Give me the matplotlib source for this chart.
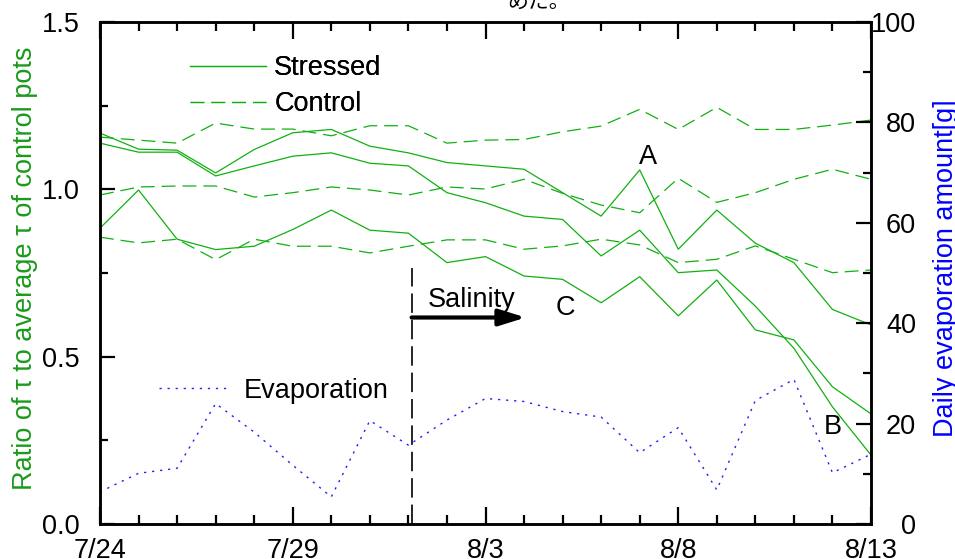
import matplotlib
matplotlib.use("Agg")
import matplotlib.pyplot as plt
import matplotlib.dates as mdates
from matplotlib.ticker import FixedLocator, MultipleLocator
from matplotlib.lines import Line2D
import pandas as pd

plt.rcParams['font.family'] = ['Liberation Sans', 'DejaVu Sans']
plt.rcParams['lines.scale_dashes'] = False

# データ (7/24 - 8/13)
dates = pd.date_range('2000-07-24', '2000-08-13', freq='D')

stressed_a = [1.168, 1.120, 1.117, 1.049, 1.119, 1.169, 1.179, 1.129, 1.109, 1.080, 1.070,
              1.060, 0.990, 0.920, 1.058, 0.821, 0.938, 0.839, 0.781, 0.641, 0.595]
stressed_b = [1.138, 1.111, 1.111, 1.040, 1.070, 1.099, 1.109, 1.078, 1.070, 0.990, 0.960,
              0.920, 0.910, 0.801, 0.878, 0.751, 0.759, 0.651, 0.525, 0.350, 0.206]
stressed_c = [0.884, 0.998, 0.851, 0.820, 0.830, 0.880, 0.938, 0.878, 0.869, 0.781, 0.799,
              0.741, 0.731, 0.661, 0.739, 0.622, 0.729, 0.580, 0.550, 0.410, 0.329]

control_1 = [1.156, 1.147, 1.138, 1.198, 1.180, 1.180, 1.160, 1.190, 1.190, 1.138, 1.147,
             1.149, 1.172, 1.189, 1.239, 1.179, 1.245, 1.179, 1.179, 1.192, 1.207]
control_2 = [0.983, 1.007, 1.010, 1.010, 0.977, 0.990, 1.007, 0.998, 0.983, 1.007, 1.001,
             1.030, 0.988, 0.953, 0.930, 1.033, 0.961, 0.990, 1.030, 1.060, 1.030]
control_3 = [0.857, 0.840, 0.851, 0.790, 0.851, 0.830, 0.830, 0.810, 0.830, 0.849, 0.849,
             0.821, 0.831, 0.851, 0.834, 0.781, 0.791, 0.831, 0.791, 0.751, 0.759]

evaporation = [6.4, 10.1, 11.1, 24.0, 18.3, 11.7, 5.4, 20.6, 15.7, 20.7, 25.0,
               24.4, 22.4, 21.3, 14.2, 19.2, 6.8, 24.6, 28.8, 10.2, 13.9]

tick_dates = dates[::5]
salinity_start = dates[8] + pd.Timedelta(hours=2)

green = '#11b011'
label_green = '#1a9a1a'
fs = 19.5

fig = plt.figure(figsize=(9.55, 5.59), dpi=100)
ax = fig.add_axes([100 / 955, 35 / 559, 771 / 955, 502 / 559])
ax2 = ax.twinx()

for s in [stressed_a, stressed_b, stressed_c]:
    ax.plot(dates, s, color=green, lw=0.9)
for c in [control_1, control_2, control_3]:
    ax.plot(dates, c, color=green, lw=0.9, dashes=(10, 5))
ax2.plot(dates, evaporation, color='#2020ff', lw=1.0, dashes=(1.6, 4.2))

ax.set_xlim(dates[0], dates[-1])
ax.set_ylim(0, 1.5)
ax2.set_ylim(0, 100)

ax.xaxis.set_major_locator(FixedLocator(mdates.date2num(tick_dates)))
ax.xaxis.set_minor_locator(mdates.DayLocator())
ax.set_xticklabels([f"{d.month}/{d.day}" for d in tick_dates])
ax.yaxis.set_major_locator(MultipleLocator(0.5))
ax.yaxis.set_minor_locator(MultipleLocator(0.25))
ax.yaxis.set_major_formatter(plt.FormatStrFormatter('%.1f'))
ax2.yaxis.set_major_locator(MultipleLocator(20))
ax2.yaxis.set_minor_locator(MultipleLocator(10))

ax.tick_params(axis='x', which='both', direction='in', top=True, width=1.6, labelsize=fs, pad=10)
ax.tick_params(axis='x', which='major', length=12)
ax.tick_params(axis='x', which='minor', length=6.5)
ax.tick_params(axis='y', which='both', direction='in', right=False, width=1.6, labelsize=fs, pad=14.4)
ax.tick_params(axis='y', which='major', length=11)
ax.tick_params(axis='y', which='minor', length=6)
ax2.tick_params(axis='y', which='both', direction='in', width=1.6, labelsize=fs, pad=32.4)
ax2.tick_params(axis='y', which='major', length=11)
ax2.tick_params(axis='y', which='minor', length=6)
for lab in ax2.get_yticklabels():
    lab.set_horizontalalignment('right')

for a in (ax, ax2):
    for sp in a.spines.values():
        sp.set_linewidth(1.8)

ax.set_ylabel('Ratio of \u03c4 to average \u03c4 of control pots', color=label_green, fontsize=fs)
ax.yaxis.set_label_coords(-0.08, 0.51)
ax2.set_ylabel('Daily evaporation amount[g]', color='#0000ff', fontsize=fs)
ax2.yaxis.set_label_coords(1.08, 0.51)

# 塩ストレス開始
ax.plot([salinity_start, salinity_start], [0, 0.765], color='black', lw=1.2, dashes=(14, 5))
ax.annotate('', xy=(dates[11] + pd.Timedelta(hours=1), 0.617), xytext=(salinity_start, 0.617),
            arrowprops=dict(arrowstyle='-|>,head_length=1.6,head_width=0.5', color='black',
                            lw=3, shrinkA=0, shrinkB=0))
ax.text(dates[8] + pd.Timedelta(hours=12), 0.63, 'Salinity', fontsize=fs, ha='left', va='bottom')
ax.text(dates[14] + pd.Timedelta(hours=5), 1.096, 'A', fontsize=fs, ha='center', va='center')
ax.text(dates[19], 0.29, 'B', fontsize=fs, ha='center', va='center')
ax.text(dates[12] + pd.Timedelta(hours=2), 0.645, 'C', fontsize=fs, ha='center', va='center')

leg1 = ax.legend([Line2D([], [], color=green, lw=0.9),
                  Line2D([], [], color=green, lw=0.9, dashes=(10, 5))],
                 ['Stressed', 'Control'], loc='upper left', bbox_to_anchor=(0.117, 0.934),
                 frameon=False, fontsize=fs, handlelength=2.8, handletextpad=0.3,
                 labelspacing=0.38, borderpad=0, borderaxespad=0)
ax.add_artist(leg1)
ax2.legend([Line2D([], [], color='#2020ff', lw=1.0, dashes=(1.6, 4.2))], ['Evaporation'],
           loc='center left', bbox_to_anchor=(0.077, 0.265), frameon=False, fontsize=fs,
           handlelength=2.65, handletextpad=0.45, borderpad=0, borderaxespad=0)

fig.text(507 / 955, 1 - 8 / 559, 'めた。', fontsize=15, ha='left', va='baseline',
         family=['Noto Sans CJK JP', 'DejaVu Sans'])

fig.savefig('out.png', dpi=100)
